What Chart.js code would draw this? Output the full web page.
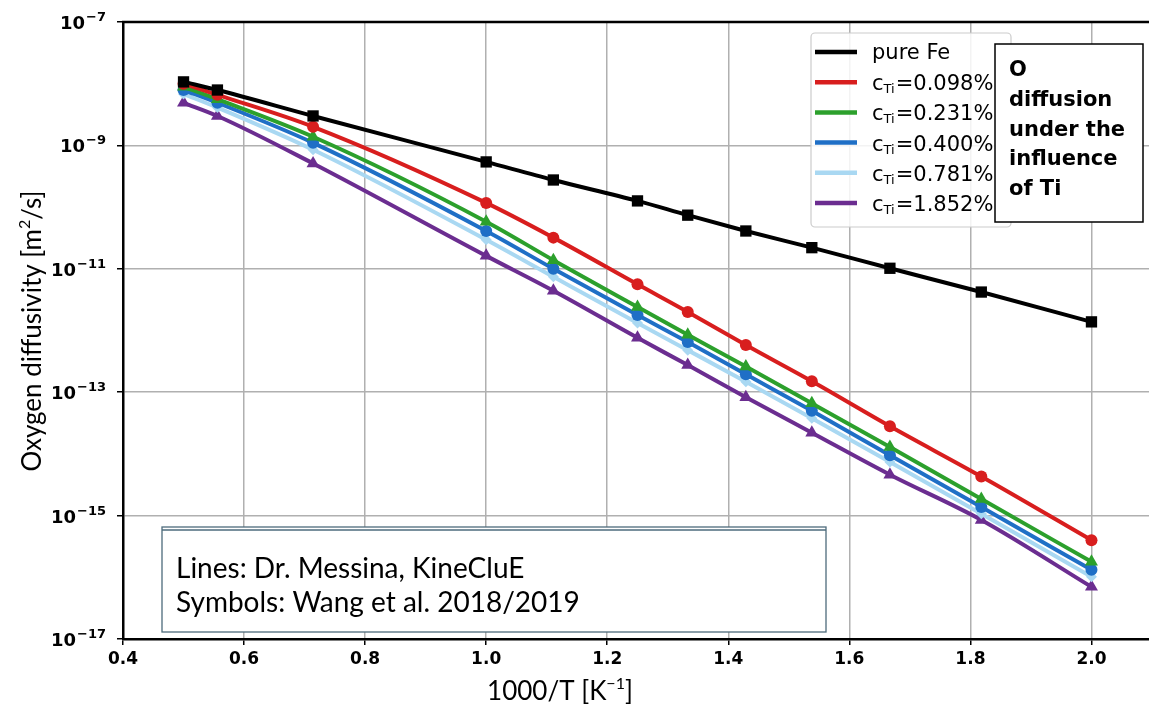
<!DOCTYPE html>
<html>
<head>
<meta charset="utf-8">
<script src="https://cdn.jsdelivr.net/npm/chart.js@4.4.0/dist/chart.umd.min.js"></script>
<style>
  html, body { margin: 0; padding: 0; background: #fff; overflow: hidden; }
  #wrap { width: 1160px; height: 711px; }
</style>
</head>
<body>
<div id="wrap"><canvas id="chart" width="1160" height="711"></canvas></div>
<script>
// 1000/T [1/K]
const xValues = [0.5, 0.556, 0.714, 1.0, 1.111, 1.25, 1.333, 1.429, 1.538, 1.667, 1.818, 2.0];

// Oxygen diffusivity [m2/s]
const pureFe  = [1.07e-8, 7.9e-9, 3.0e-9, 5.4e-10, 2.75e-10, 1.26e-10, 7.4e-11, 4.1e-11, 2.2e-11, 1.02e-11, 4.2e-12, 1.38e-12];
const ti0098  = [1.0e-8, 6.6e-9, 2.0e-9, 1.17e-10, 3.2e-11, 5.6e-12, 2.0e-12, 5.8e-13, 1.5e-13, 2.8e-14, 4.3e-15, 4.0e-16];
const ti0231  = [8.9e-9, 5.6e-9, 1.38e-9, 5.8e-11, 1.38e-11, 2.4e-12, 8.5e-13, 2.6e-13, 6.6e-14, 1.29e-14, 1.86e-15, 1.78e-16];
const ti0400  = [7.9e-9, 4.9e-9, 1.1e-9, 4.1e-11, 1.0e-11, 1.78e-12, 6.5e-13, 1.95e-13, 5.0e-14, 9.5e-15, 1.38e-15, 1.32e-16];
const ti0781  = [6.8e-9, 4.1e-9, 8.5e-10, 2.95e-11, 7.4e-12, 1.32e-12, 4.8e-13, 1.48e-13, 3.8e-14, 7.4e-15, 1.07e-15, 1.02e-16];
const ti1852  = [4.9e-9, 3.0e-9, 5.1e-10, 1.62e-11, 4.4e-12, 7.6e-13, 2.75e-13, 8.3e-14, 2.2e-14, 4.6e-15, 8.5e-16, 7.0e-17];

const xTicks = [0.4, 0.6, 0.8, 1.0, 1.2, 1.4, 1.6, 1.8, 2.0];
const yTicks = [1e-17, 1e-15, 1e-13, 1e-11, 1e-9, 1e-7];

const legendNames = ['pure Fe', '=0.098%', '=0.231%', '=0.400%', '=0.781%', '=1.852%'];
const infoLines = ['O', 'diffusion', 'under the', 'influence', 'of Ti'];
const creditLines = ['Lines: Dr. Messina, KineCluE', 'Symbols: Wang et al. 2018/2019'];

function pts(ys) { return xValues.map((x, i) => ({ x: x, y: ys[i] })); }

const series = [
  { data: pureFe, color: '#000000', marker: 'rect', r: 8 },
  { data: ti0098, color: '#d81e1e', marker: 'circle', r: 6 },
  { data: ti0231, color: '#2ca02c', marker: 'triangle', r: 7.5 },
  { data: ti0400, color: '#1f6fc6', marker: 'circle', r: 6 },
  { data: ti0781, color: '#a9d8f2', marker: 'rectRot', r: 5.5 },
  { data: ti1852, color: '#6b2d90', marker: 'triangle', r: 7.5 }
];

const decor = {
  id: 'decor',
  afterDraw(chart) {
    const ctx = chart.ctx;
    const a = chart.chartArea;
    ctx.save();
    // top spine
    ctx.strokeStyle = '#000';
    ctx.lineWidth = 2.5;
    ctx.beginPath();
    ctx.moveTo(a.left - 1, a.top);
    ctx.lineTo(a.right, a.top);
    ctx.moveTo(a.right, a.top);
    ctx.lineTo(a.right, a.bottom);
    ctx.stroke();

    // y tick labels 10^n
    ctx.fillStyle = '#000';
    ctx.textBaseline = 'alphabetic';
    ctx.textAlign = 'right';
    yTicks.forEach(v => {
      const y = chart.scales.y.getPixelForValue(v);
      const e = '\u2212' + String(Math.round(-Math.log10(v)));
      ctx.font = 'bold 13px "DejaVu Sans"';
      const we = ctx.measureText(e).width;
      ctx.fillText(e, 106, y - 1);
      ctx.font = 'bold 18px "DejaVu Sans"';
      ctx.fillText('10', 106 - we - 1, y + 7);
    });
    ctx.textAlign = 'left';

    // legend box
    ctx.fillStyle = 'rgba(255,255,255,0.85)';
    ctx.strokeStyle = '#cccccc';
    ctx.lineWidth = 1.2;
    ctx.beginPath();
    ctx.roundRect(811, 33, 200, 194, 4);
    ctx.fill();
    ctx.stroke();
    series.forEach((s, i) => {
      const y = 52 + i * 30.2;
      ctx.strokeStyle = s.color;
      ctx.lineWidth = 4.5;
      ctx.beginPath();
      ctx.moveTo(815, y);
      ctx.lineTo(857, y);
      ctx.stroke();
      ctx.fillStyle = '#000';
      ctx.font = '21px "DejaVu Sans"';
      if (i === 0) {
        ctx.fillText(legendNames[i], 872, y + 7);
      } else {
        ctx.fillText('c', 872, y + 8);
        let x = 872 + ctx.measureText('c').width;
        ctx.font = '13px "DejaVu Sans"';
        ctx.fillText('Ti', x, y + 11);
        x += ctx.measureText('Ti').width + 1;
        ctx.font = '21px "DejaVu Sans"';
        ctx.fillText(legendNames[i], x, y + 8);
      }
    });

    // info text box
    ctx.fillStyle = '#fff';
    ctx.fillRect(995, 44, 148, 178);
    ctx.strokeStyle = '#000';
    ctx.lineWidth = 1.5;
    ctx.strokeRect(995, 44, 148, 178);
    ctx.fillStyle = '#000';
    ctx.font = 'bold 21px "DejaVu Sans"';
    infoLines.forEach((t, i) => ctx.fillText(t, 1009, 76 + i * 29.8));

    // credits box
    ctx.fillStyle = '#fff';
    ctx.fillRect(162, 527, 664, 105);
    ctx.strokeStyle = '#4d6b7c';
    ctx.lineWidth = 1.3;
    ctx.strokeRect(162, 527, 664, 105);
    ctx.beginPath();
    ctx.moveTo(162, 530);
    ctx.lineTo(826, 530);
    ctx.stroke();
    ctx.fillStyle = '#000';
    ctx.font = '28px "Lato"';
    creditLines.forEach((t, i) => ctx.fillText(t, 176, 578 + i * 34));

    // axis titles
    const big = '26px "Lato"', small = '16px "Lato"';
    ctx.font = big;
    const xt1 = '1000/T [K';
    const wx1 = ctx.measureText(xt1).width;
    const wx2 = ctx.measureText(']').width;
    ctx.font = small;
    const wsup = ctx.measureText('\u22121').width;
    let x0 = 560 - (wx1 + wsup + wx2) / 2;
    ctx.font = big;
    ctx.fillText(xt1, x0, 700);
    ctx.font = small;
    ctx.fillText('\u22121', x0 + wx1, 689);
    ctx.font = big;
    ctx.fillText(']', x0 + wx1 + wsup, 700);

    ctx.translate(41, 331);
    ctx.rotate(-Math.PI / 2);
    const yt1 = 'Oxygen diffusivity [m';
    const yt2 = '/s]';
    ctx.font = big;
    const w1 = ctx.measureText(yt1).width, w3 = ctx.measureText(yt2).width;
    ctx.font = small;
    const w2 = ctx.measureText('2').width;
    x0 = -(w1 + w2 + w3) / 2;
    ctx.font = big;
    ctx.fillText(yt1, x0, 0);
    ctx.font = small;
    ctx.fillText('2', x0 + w1, -11);
    ctx.font = big;
    ctx.fillText(yt2, x0 + w1 + w2, 0);
    ctx.restore();
  }
};

new Chart(document.getElementById('chart'), {
  type: 'line',
  data: {
    datasets: series.map(s => ({
      data: pts(s.data),
      borderColor: s.color,
      backgroundColor: s.color,
      borderWidth: 4,
      pointStyle: s.marker,
      pointRadius: s.r,
      pointBorderWidth: 0,
      pointBackgroundColor: s.color,
      cubicInterpolationMode: 'monotone',
      fill: false
    }))
  },
  options: {
    responsive: false,
    animation: false,
    devicePixelRatio: 1,
    layout: { padding: { left: 0, top: 22, right: 6, bottom: 0 } },
    plugins: { legend: { display: false }, tooltip: { enabled: false } },
    scales: {
      x: {
        type: 'linear',
        min: 0.4,
        max: 2.1,
        afterBuildTicks(scale) { scale.ticks = xTicks.map(v => ({ value: v })); },
        afterFit(scale) { scale.height = 72; },
        grid: { color: '#b0b0b0', lineWidth: 1.5, tickColor: '#000', tickLength: 6, tickWidth: 1.5 },
        border: { color: '#000', width: 2.5 },
        ticks: {
          color: '#000',
          font: { family: 'DejaVu Sans', size: 17, weight: 'bold' },
          padding: 4,
          maxRotation: 0,
          callback: v => v.toFixed(1)
        }
      },
      y: {
        type: 'logarithmic',
        min: 1e-17,
        max: 1e-7,
        afterBuildTicks(scale) { scale.ticks = yTicks.map(v => ({ value: v })); },
        afterFit(scale) { scale.width = 123; },
        grid: { color: '#b0b0b0', lineWidth: 1.5, tickColor: '#000', tickLength: 6, tickWidth: 1.5 },
        border: { color: '#000', width: 2.5 },
        ticks: { display: false }
      }
    }
  },
  plugins: [decor]
});
</script>
</body>
</html>
